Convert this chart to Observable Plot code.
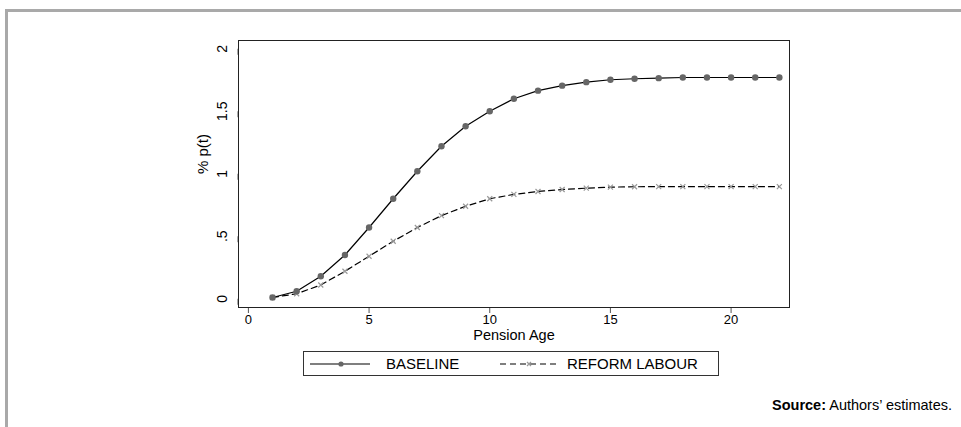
<!DOCTYPE html>
<html>
<head>
<meta charset="utf-8">
<script src="https://cdn.jsdelivr.net/npm/d3@7"></script>
<script src="https://cdn.jsdelivr.net/npm/@observablehq/plot@0.6"></script>
<style>
  html, body { margin: 0; padding: 0; background: #fff; }
  body { width: 961px; height: 427px; position: relative; overflow: hidden; font-family: "Liberation Sans", Arial, sans-serif; }
  #border { position: absolute; left: 5px; top: 9px; right: 0; bottom: 0; border-top: 3px solid #a9a9a9; border-left: 3px solid #a9a9a9; }
  #chart { position: absolute; left: 0; top: 0; }
  #legend { position: absolute; left: 303px; top: 351px; width: 416px; height: 25px; border: 1px solid #333; box-sizing: border-box; }
  #legend .item { position: absolute; top: 0; height: 23px; display: flex; align-items: center; font-size: 15px; color: #000; }
  #source { position: absolute; right: 9px; top: 397px; font-size: 14.5px; color: #000; }
</style>
</head>
<body>
<div id="border"></div>
<div id="chart"></div>
<div id="legend">
  <div class="item" style="left:6px">
    <svg width="62" height="23"><line x1="0" x2="60" y1="12" y2="12" stroke="#000" stroke-width="1.2"/><circle cx="31" cy="12" r="2.6" fill="#666"/></svg>
    <span style="margin-left:14px">BASELINE</span>
  </div>
  <div class="item" style="left:196px">
    <svg width="60" height="23"><line x1="0" x2="58" y1="12" y2="12" stroke="#000" stroke-width="1.2" stroke-dasharray="6,4"/><path d="M27,10 L31,14 M31,10 L27,14" stroke="#999" stroke-width="1.2"/></svg>
    <span style="margin-left:7px">REFORM LABOUR</span>
  </div>
</div>
<div id="source"><b>Source:</b> Authors’ estimates.</div>
<script>
const ages = [1, 2, 3, 4, 5, 6, 7, 8, 9, 10, 11, 12, 13, 14, 15, 16, 17, 18, 19, 20, 21, 22];
const baseline = [0.01, 0.06, 0.18, 0.35, 0.57, 0.80, 1.02, 1.22, 1.38, 1.50, 1.60, 1.665, 1.705, 1.733, 1.752, 1.76, 1.765, 1.77, 1.77, 1.77, 1.77, 1.77];
const reform = [0.01, 0.04, 0.11, 0.22, 0.34, 0.46, 0.57, 0.665, 0.74, 0.80, 0.835, 0.858, 0.874, 0.885, 0.893, 0.896, 0.897, 0.897, 0.897, 0.897, 0.897, 0.897];
const xTicks = [0, 5, 10, 15, 20];
const yTicks = [0, 0.5, 1, 1.5, 2];
const yTickLabels = ["0", ".5", "1", "1.5", "2"];
const xTitle = "Pension Age";
const yTitle = "% p(t)";

const base = ages.map((a, i) => ({age: a, v: baseline[i]}));
const ref = ages.map((a, i) => ({age: a, v: reform[i]}));

const chart = Plot.plot({
  width: 961,
  height: 345,
  marginLeft: 238,
  marginRight: 172,
  marginTop: 40,
  marginBottom: 38,
  style: {fontFamily: '"Liberation Sans", Arial, sans-serif', fontSize: "14px", color: "#000", background: "transparent"},
  x: {domain: [-0.41, 22.42]},
  y: {domain: [-0.07, 2.066]},
  marks: [
    Plot.axisX({ticks: xTicks, tickSize: 6, tickPadding: 1, label: null, stroke: "#555", fontSize: 13, color: "#000"}),
    Plot.axisY({ticks: yTicks, tickFormat: (d) => yTickLabels[yTicks.indexOf(d)], tickSize: 6, tickPadding: 10, rotate: -90, textAnchor: "middle", label: null, stroke: "#555", fontSize: 14}),
    Plot.frame({stroke: "#222"}),
    Plot.line(ref, {x: "age", y: "v", stroke: "#000", strokeWidth: 1.2, strokeDasharray: "6,4"}),
    Plot.dot(ref, {x: "age", y: "v", symbol: "times", r: 2.4, stroke: "#999", strokeWidth: 1.2}),
    Plot.line(base, {x: "age", y: "v", stroke: "#000", strokeWidth: 1.2}),
    Plot.dot(base, {x: "age", y: "v", r: 3.2, fill: "#666", stroke: "none"}),
    Plot.text([xTitle], {frameAnchor: "bottom", dy: 32, fontSize: 14.5, fill: "#000"}),
    Plot.text([yTitle], {frameAnchor: "left", dx: -35, rotate: -90, fontSize: 15, fill: "#000"})
  ]
});
document.getElementById("chart").appendChild(chart);
</script>
</body>
</html>
